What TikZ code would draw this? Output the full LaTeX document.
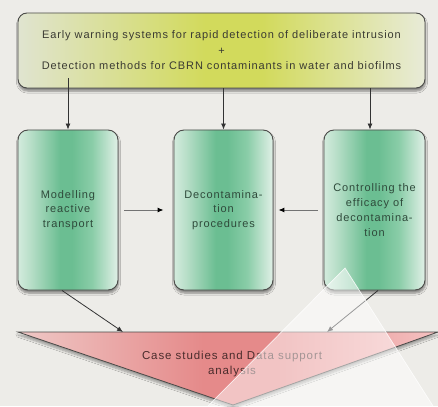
\documentclass[tikz,border=0pt]{standalone}
\usepackage{fontspec}
\setmainfont{Liberation Sans}[LetterSpace=8]
\usetikzlibrary{arrows.meta,shadows.blur}

\definecolor{bg}{HTML}{EDECE8}
\definecolor{edge}{HTML}{4A4A48}
\definecolor{yelL}{HTML}{E0E4D0}
\definecolor{yelM}{HTML}{D2DA5C}
\definecolor{yelR}{HTML}{E8EBD8}
\definecolor{grnL}{HTML}{D3EBDD}
\definecolor{grnA}{HTML}{B9DFC9}
\definecolor{grnM}{HTML}{6BBE92}
\definecolor{grnB}{HTML}{8ACDA8}
\definecolor{grnR}{HTML}{E1F0E7}
\definecolor{redL}{HTML}{EFC8C6}
\definecolor{redM}{HTML}{E58A8A}
\definecolor{redR}{HTML}{F5C2C2}
\definecolor{txtTop}{HTML}{3A3A32}
\definecolor{txtGrn}{HTML}{2F4A3B}
\definecolor{txtRed}{HTML}{4A2C2C}

% horizontal fills; the path box spans 25bp..75bp of each shading
\pgfdeclarehorizontalshading{stagefill}{100bp}{color(0bp)=(grnL); color(25bp)=(grnL);
  color(31bp)=(grnA); color(46bp)=(grnM); color(52bp)=(grnM); color(62bp)=(grnB);
  color(75bp)=(grnR); color(100bp)=(grnR)}
\pgfdeclarehorizontalshading{bannerfill}{100bp}{color(0bp)=(yelL); color(25bp)=(yelL);
  color(48bp)=(yelM); color(55bp)=(yelM); color(75bp)=(yelR); color(100bp)=(yelR)}
\pgfdeclarehorizontalshading{funnelfill}{100bp}{color(0bp)=(redL); color(25bp)=(redL);
  color(47bp)=(redM); color(56bp)=(redM); color(75bp)=(redR); color(100bp)=(redR)}

\tikzset{
  softshadow/.style={blur shadow={shadow xshift=0.5pt, shadow yshift=-3pt,
      shadow blur steps=6, shadow opacity=45}},
  topbox/.style={draw=edge, line width=0.9pt, rounded corners=9pt,
      shading=bannerfill,
      minimum width=407pt, minimum height=75pt, align=center,
      text=txtTop, font=\fontsize{11}{15.5}\selectfont, softshadow},
  stagebox/.style={draw=edge, line width=0.9pt, rounded corners=10pt,
      shading=stagefill,
      minimum height=160pt, align=center, text=txtGrn,
      font=\fontsize{11}{14.8}\selectfont, softshadow},
  downarrow/.style={draw=black!80, line width=0.8pt,
      -{Latex[length=6pt,width=5pt]}},
  sidearrow/.style={draw=black!55, line width=1pt,
      -{Latex[length=6pt,width=5pt,color=black]}},
}

\begin{document}
\begin{tikzpicture}[x=1pt,y=-1pt]
\fill[bg] (0,0) rectangle (438,406);
\useasboundingbox (0,0) rectangle (438,406);

% top box
\node[topbox] (top) at (221.5,50.5)
  {Early warning systems for rapid detection of deliberate intrusion\\
   +\\
   Detection methods for CBRN contaminants in water and biofilms};

% three stages
\node[stagebox, minimum width=100pt] (model) at (68,210)
  {Modelling\\reactive\\transport};
\node[stagebox, minimum width=99pt] (decon) at (223.5,210)
  {Decontamina-\\tion\\procedures};
\node[stagebox, minimum width=101pt] (ctrl) at (374.5,210)
  {Controlling the\\efficacy of\\decontamina-\\tion};

% funnel of results
\path[draw=edge, line width=0.8pt, shading=funnelfill,
      blur shadow={shadow xshift=0pt, shadow yshift=-3pt,
      shadow blur steps=6, shadow opacity=35}]
  (18,332) -- (438,332) -- (233,405) -- cycle;
\node[align=center, text=txtRed, font=\fontsize{11.5}{14.5}\selectfont] (cases)
  at (232,364) {Case studies and Data support\\analysis};
\coordinate (inL) at (123,332);
\coordinate (inR) at (327,332);

% connectors
\draw[downarrow] ([yshift=10pt]top.south -| model.north) -- (model.north);
\draw[downarrow] (top.south -| decon.north) -- (decon.north);
\draw[downarrow] ([xshift=-4.5pt]top.south -| ctrl.north) -- ([xshift=-4.5pt]ctrl.north);
\draw[sidearrow] ([xshift=6pt]model.east) -- ([xshift=-10pt]decon.west);
\draw[sidearrow] ([xshift=-6pt]ctrl.west) -- ([xshift=5pt]decon.east);
\draw[downarrow] ([xshift=-6pt]model.south) -- (inL);
\draw[downarrow] ([xshift=3.5pt]ctrl.south) -- (inR);

% pale light wedge lying over the lower right
\fill[white, opacity=0.5] (345,268) -- (208,406) -- (433,406) -- cycle;
\draw[white, opacity=0.8, line width=0.7pt] (208,406) -- (345,268) -- (433,406);
\end{tikzpicture}
\end{document}
